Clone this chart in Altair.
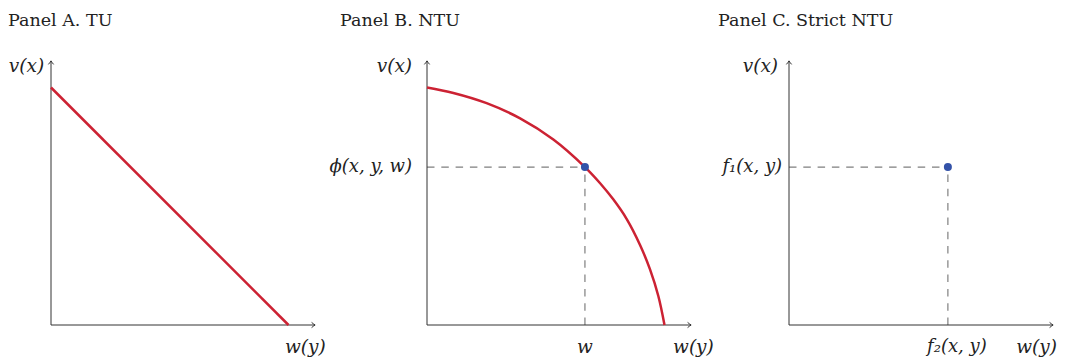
import altair as alt
import pandas as pd

# ---------------- data ----------------
titles = ["Panel A. TU", "Panel B. NTU", "Panel C. Strict NTU"]

# Panel A: transferable utility frontier (straight line)
tu_x = [0.0, 1.0]
tu_y = [1.0, 0.0]

# Panel B: NTU frontier
ntu_x = [0.0, 0.111, 0.251, 0.392, 0.532, 0.665, 0.728, 0.785, 0.841, 0.897, 0.939, 0.974, 1.0]
ntu_y = [1.0, 0.977, 0.934, 0.870, 0.781, 0.665, 0.598, 0.528, 0.446, 0.337, 0.234, 0.122, 0.0]

# highlighted points
point_b = [0.665, 0.665]
point_c = [0.669, 0.665]

axis_len = 1.112

# ---------------- layout ----------------
PX = 237.5          # pixels per unit
H = 345             # panel height
OY = 317            # origin y within panel
widths = [324, 380, 346]
origins = [43, 95, 77]

SERIF = "DejaVu Serif"
AXIS_C = "#333333"
RED = "#cc2233"
BLUE = "#3352a8"
DASH_C = "#7f7f7f"
LABEL_SIZE = 18
VAR_SIZE = 18.5
TITLE_SIZE = 17.5


def scales(i):
    w, ox = widths[i], origins[i]
    xs = alt.Scale(domain=[-ox / PX, (w - ox) / PX], nice=False, zero=False)
    ys = alt.Scale(domain=[-(H - OY) / PX, OY / PX], nice=False, zero=False)
    return xs, ys


def enc_xy(xs, ys, extra=None):
    d = dict(
        x=alt.X("x:Q", scale=xs, axis=None),
        y=alt.Y("y:Q", scale=ys, axis=None),
    )
    if extra:
        d.update(extra)
    return d


def axes_layers(xs, ys):
    ax = pd.DataFrame({"x": [0, 0], "y": [0, 0], "x2": [axis_len, 0], "y2": [0, axis_len]})
    rules = alt.Chart(ax).mark_rule(color=AXIS_C, strokeWidth=1).encode(
        x=alt.X("x:Q", scale=xs, axis=None),
        y=alt.Y("y:Q", scale=ys, axis=None),
        x2="x2:Q",
        y2="y2:Q",
    )
    ax_x = pd.DataFrame({"x": [axis_len], "y": [0]})
    ax_y = pd.DataFrame({"x": [0], "y": [axis_len]})
    head_x = alt.Chart(ax_x).mark_point(
        shape="M -1 -0.75 Q -0.35 -0.2 0 0 Q -0.35 0.2 -1 0.75",
        size=49, filled=False, stroke=AXIS_C, strokeWidth=1, opacity=1,
    ).encode(**enc_xy(xs, ys))
    head_y = alt.Chart(ax_y).mark_point(
        shape="M -0.75 1 Q -0.2 0.35 0 0 Q 0.2 0.35 0.75 1",
        size=49, filled=False, stroke=AXIS_C, strokeWidth=1, opacity=1,
    ).encode(**enc_xy(xs, ys))
    return [rules, head_x, head_y]


def text_layer(xs, ys, x, y, txt, align, size, style="normal", baseline="middle"):
    df = pd.DataFrame({"x": [x], "y": [y], "t": [txt]})
    return alt.Chart(df).mark_text(
        align=align, baseline=baseline, font=SERIF, fontSize=size,
        fontStyle=style, color="#222222",
    ).encode(**enc_xy(xs, ys, {"text": "t:N"}))


def dashed_layers(xs, ys, px, py):
    d = pd.DataFrame({"x": [0, px], "y": [py, 0], "x2": [px, px], "y2": [py, py]})
    r = alt.Chart(d).mark_rule(color=DASH_C, strokeWidth=1.2, strokeDash=[7.5, 6.8]).encode(
        x=alt.X("x:Q", scale=xs, axis=None),
        y=alt.Y("y:Q", scale=ys, axis=None),
        x2="x2:Q",
        y2="y2:Q",
    )
    p = alt.Chart(pd.DataFrame({"x": [px], "y": [py]})).mark_circle(
        color=BLUE, size=64, opacity=1
    ).encode(**enc_xy(xs, ys))
    return r, p


ty = (OY - 17.7) / PX     # title baseline row
vy = 1.09                 # v(x) label row
wy = -0.093               # w(y) label row

# ---- Panel A ----
xs, ys = scales(0)
line_a = alt.Chart(pd.DataFrame({"x": tu_x, "y": tu_y})).mark_line(
    color=RED, strokeWidth=2.5).encode(**enc_xy(xs, ys))
panel_a = alt.layer(
    *axes_layers(xs, ys),
    line_a,
    text_layer(xs, ys, -0.181, ty, titles[0], "left", TITLE_SIZE, baseline="alphabetic"),
    text_layer(xs, ys, -0.029, vy, "v(x)", "right", VAR_SIZE, "italic"),
    text_layer(xs, ys, 0.985, wy, "w(y)", "left", VAR_SIZE, "italic"),
).properties(width=widths[0], height=H)

# ---- Panel B ----
xs, ys = scales(1)
curve_b = alt.Chart(pd.DataFrame({"x": ntu_x, "y": ntu_y, "o": list(range(len(ntu_x)))})).mark_line(
    color=RED, strokeWidth=2.5, interpolate="catmull-rom").encode(
    **enc_xy(xs, ys, {"order": "o:Q"}))
rb, pb = dashed_layers(xs, ys, point_b[0], point_b[1])
panel_b = alt.layer(
    rb,
    *axes_layers(xs, ys),
    curve_b,
    pb,
    text_layer(xs, ys, -0.366, ty, titles[1], "left", TITLE_SIZE, baseline="alphabetic"),
    text_layer(xs, ys, -0.063, vy, "v(x)", "right", VAR_SIZE, "italic"),
    text_layer(xs, ys, -0.063, point_b[1], "ϕ(x, y, w)", "right", LABEL_SIZE, "italic"),
    text_layer(xs, ys, point_b[0], wy, "w", "center", VAR_SIZE, "italic"),
    text_layer(xs, ys, 1.036, wy, "w(y)", "left", VAR_SIZE, "italic"),
).properties(width=widths[1], height=H)

# ---- Panel C ----
xs, ys = scales(2)
rc, pc = dashed_layers(xs, ys, point_c[0], point_c[1])
panel_c = alt.layer(
    rc,
    *axes_layers(xs, ys),
    pc,
    text_layer(xs, ys, -0.299, ty, titles[2], "left", TITLE_SIZE, baseline="alphabetic"),
    text_layer(xs, ys, -0.046, vy, "v(x)", "right", VAR_SIZE, "italic"),
    text_layer(xs, ys, -0.029, point_c[1], "f₁(x, y)", "right", LABEL_SIZE, "italic"),
    text_layer(xs, ys, 0.707, wy, "f₂(x, y)", "center", LABEL_SIZE, "italic"),
    text_layer(xs, ys, (widths[2] - origins[2] - 1) / PX, wy, "w(y)", "right", VAR_SIZE, "italic"),
).properties(width=widths[2], height=H)

chart = alt.hconcat(panel_a, panel_b, panel_c, spacing=0, bounds="flush").properties(
    padding=0
).configure_view(stroke=None).resolve_scale(x="independent", y="independent")

chart.save("out.html", embed_options={"renderer": "svg", "actions": False})
